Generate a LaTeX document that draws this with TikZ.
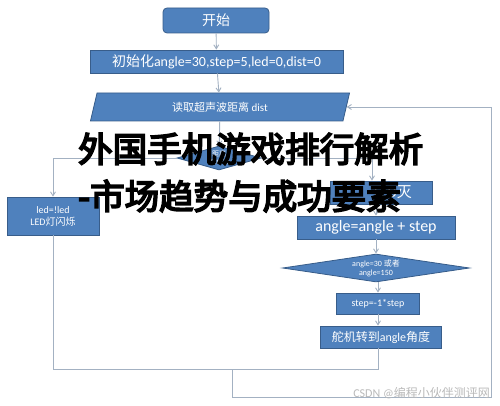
\documentclass[tikz,border=0pt]{standalone}
\usepackage{fontspec}
\setmainfont{Carlito}
\newfontfamily\cjk{Noto Sans CJK SC}
\newfontfamily\cjkheavy[FakeBold=5]{Noto Sans CJK SC}
\usepackage{tikz}
\usetikzlibrary{shapes.geometric,arrows.meta}
\definecolor{boxblue}{HTML}{4F81BD}
\definecolor{boxedge}{HTML}{385D8A}
\definecolor{flowline}{HTML}{A3B1C2}
\tikzset{>={Straight Barb[length=4pt,width=5pt]}}
\tikzset{
  blk/.style={draw=boxedge, fill=boxblue, text=white, inner sep=0pt, align=center, line width=0.8pt},
  flow/.style={draw=flowline, line width=0.9pt},
  headline/.style={anchor=west, inner sep=0pt, text=black, font=\fontsize{34.5}{40}\cjkheavy},
}

\begin{document}
\begin{tikzpicture}[x=1pt, y=-1pt]
  \useasboundingbox (0,0) rectangle (500,406);
  % boxes of the flow chart
  \node[blk, rounded corners=4pt, minimum width=106, minimum height=25, font=\fontsize{14}{16}\cjk] (start) at (216,20.5) {开始};
  \node[blk, minimum width=253, minimum height=23, font=\fontsize{14}{16}\selectfont] (init) at (216.5,61.5) {{\cjk 初始化}angle=30,step=5,led=0,dist=0};
  \node[blk, trapezium, trapezium left angle=76, trapezium right angle=104, trapezium stretches=true,
        minimum width=260, minimum height=28, font=\fontsize{11}{13}\selectfont] (read) at (220,107) {{\cjk 读取超声波距离} dist};
  \node[blk, diamond, aspect=3.5, minimum width=84, minimum height=24, font=\fontsize{7}{8}\selectfont] (check) at (219,158) {{\cjk 距离}\\dist<20};
  \node[blk, minimum width=92, minimum height=38, font=\fontsize{10}{12}\selectfont] (ledtog) at (53,216) {led=!led\\LED{\cjk 灯闪烁}};
  \node[blk, minimum width=102, minimum height=23, font=\fontsize{15}{17}\selectfont] (ledoff) at (381,192.5) {\hspace*{24pt}LED{\cjk 灭}};
  \node[blk, minimum width=158, minimum height=23, font=\fontsize{16}{18}\selectfont] (angle) at (376,227.5) {angle=angle + step};
  \node[blk, diamond, aspect=6.7, minimum width=187, minimum height=28, font=\fontsize{8}{9}\selectfont] (limit) at (376,268) {angle=30 {\cjk 或者}\\angle=150};
  \node[blk, minimum width=83, minimum height=21, font=\fontsize{10}{12}\selectfont] (flip) at (378,303.5) {step=-1*step};
  \node[blk, minimum width=121, minimum height=22, font=\fontsize{12}{14}\selectfont] (servo) at (381,337) {{\cjk 舵机转到}angle{\cjk 角度}};
  % connectors
  \draw[flow, ->] (start) -- (init);
  \draw[flow, ->] (init) -- (read);
  \draw[flow, ->] (read) -- (check);
  \draw[flow, ->] (check.west) -| (ledtog.north);
  \draw[flow, ->] (check.east) -| ([xshift=-9pt]ledoff.north);
  \draw[flow, ->] (ledoff.south -| angle) -- (angle);
  \draw[flow, ->] (angle) -- (limit);
  \draw[flow, ->] (limit.south -| flip) -- (flip);
  \draw[flow, ->] (flip) -- (flip |- servo.north);
  \coordinate (merge) at (232,369);
  \coordinate (loopcorner) at (491,397);
  \draw[flow] (flip |- servo.south) |- (merge);
  \draw[flow] (ledtog.south) |- (merge);
  \draw[flow, ->] (merge) |- (loopcorner) |- (read.east);
  % overlaid title and watermark
  \node[headline] (title1) at (78,149) {外国手机游戏排行解析};
  \node[headline] (title2) at (78,196) {-市场趋势与成功要素};
  \node[anchor=east, inner sep=0pt, text=gray!55, font=\fontsize{12}{14}\selectfont] (mark) at (490,393) {CSDN @{\cjk 编程小伙伴测评网}};
\end{tikzpicture}
\end{document}
